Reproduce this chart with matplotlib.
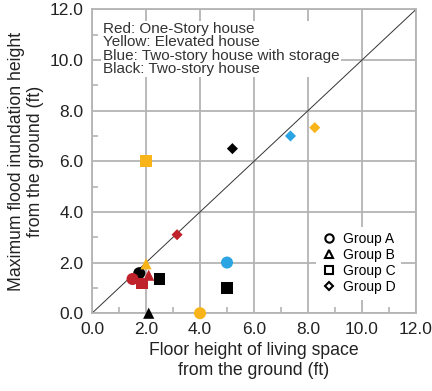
import matplotlib.pyplot as plt
from matplotlib.lines import Line2D

plt.rcParams['font.family'] = ['Liberation Sans', 'DejaVu Sans']

red = '#c0222b'
yellow = '#f8b419'
blue = '#2aa4e2'
black = '#000000'

# (x, y, colour) per group
group_a_x = [1.75, 1.5, 5.0, 4.0]
group_a_y = [1.58, 1.35, 2.0, 0.0]
group_a_c = [black, red, blue, yellow]

group_b_x = [2.1, 2.0, 2.1]
group_b_y = [1.5, 1.95, 0.0]
group_b_c = [red, yellow, black]

group_c_x = [1.85, 2.5, 5.0, 2.0]
group_c_y = [1.18, 1.35, 1.0, 6.0]
group_c_c = [red, black, black, yellow]

group_d_x = [3.15, 5.2, 7.35, 8.25]
group_d_y = [3.1, 6.5, 7.0, 7.33]
group_d_c = [red, black, blue, yellow]

ticks = [0, 2, 4, 6, 8, 10, 12]
grid_c = '#b4b4b4'


def main():
    fig = plt.figure(figsize=(4.32, 3.91), dpi=100)
    ax = fig.add_axes([0.213, 0.199, 0.75, 0.777])

    ax.plot([0, 12], [0, 12], color='#333333', lw=0.7, zorder=2)

    kw = dict(zorder=5, linewidths=0, clip_on=False)
    ax.scatter(group_a_x, group_a_y, c=group_a_c, marker='o', s=75, **kw)
    ax.scatter(group_b_x, group_b_y, c=group_b_c, marker='^', s=65, **kw)
    ax.scatter(group_c_x, group_c_y, c=group_c_c, marker='s', s=70, **kw)
    ax.scatter(group_d_x, group_d_y, c=group_d_c, marker='D', s=32, **kw)

    ax.set_xlim(0, 12)
    ax.set_ylim(0, 12)
    ax.set_xticks(ticks)
    ax.set_yticks(ticks)
    ax.set_xticklabels(['%.1f' % t for t in ticks])
    ax.set_yticklabels(['%.1f' % t for t in ticks])
    ax.set_xticks(range(1, 12, 2), minor=True)
    ax.set_yticks(range(1, 12, 2), minor=True)
    ax.tick_params(which='major', length=0, labelsize=12.5, pad=6, labelcolor='#222222')
    ax.tick_params(which='minor', direction='in', length=4, color=grid_c, width=1.2)
    ax.grid(True, which='major', color=grid_c, lw=1.3, zorder=0)
    for s in ax.spines.values():
        s.set_color(grid_c)
        s.set_linewidth(1.3)

    ax.set_xlabel('Floor height of living space\nfrom the ground (ft)', fontsize=12.7, color='#222222')
    ax.set_ylabel('Maximum flood inundation height\nfrom the ground (ft)', fontsize=12.7, color='#222222')

    ax.text(0.4, 11.5, 'Red: One-Story house\nYellow: Elevated house\n'
            'Blue: Two-story house with storage\nBlack: Two-story house',
            fontsize=11, va='top', ha='left', color='#333333', linespacing=0.93,
            bbox=dict(facecolor='white', edgecolor='none', pad=1), zorder=4)

    handles = [
        Line2D([], [], ls='none', marker='o', mfc='white', mec='black', mew=1.5, ms=6),
        Line2D([], [], ls='none', marker='^', mfc='white', mec='black', mew=1.5, ms=6),
        Line2D([], [], ls='none', marker='s', mfc='white', mec='black', mew=1.5, ms=6),
        Line2D([], [], ls='none', marker='D', mfc='white', mec='black', mew=1.5, ms=4.5),
    ]
    leg = ax.legend(handles, ['Group A', 'Group B', 'Group C', 'Group D'],
                    loc='lower right', bbox_to_anchor=(0.966, 0.03), frameon=True,
                    fontsize=10, handlelength=1, handletextpad=0.5, labelspacing=0.15,
                    borderaxespad=0.3)
    leg.get_frame().set_edgecolor('none')
    leg.get_frame().set_facecolor('white')
    leg.get_frame().set_alpha(1)

    fig.savefig('out.png', dpi=100)


if __name__ == '__main__':
    main()
